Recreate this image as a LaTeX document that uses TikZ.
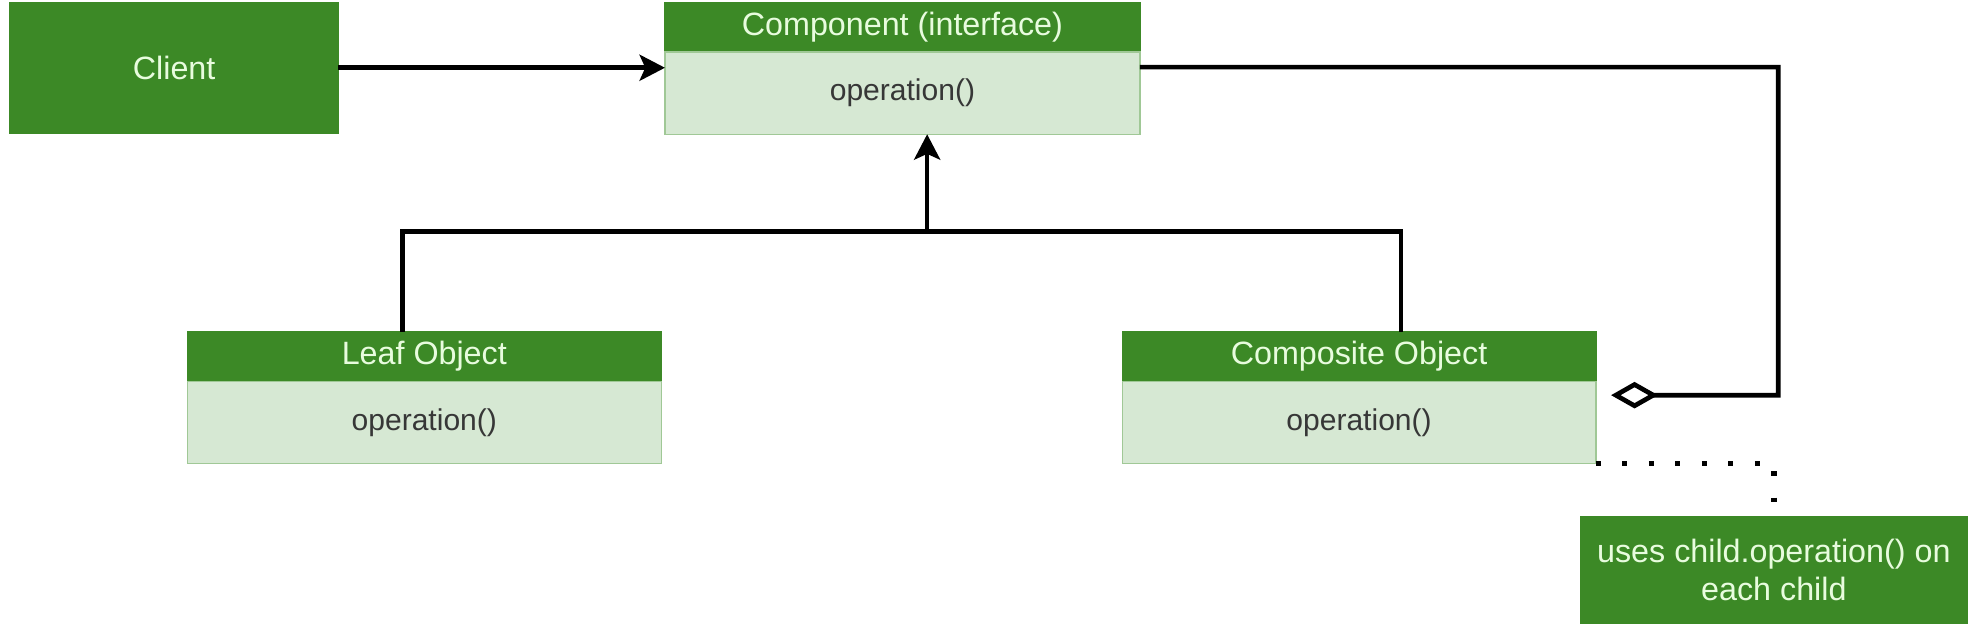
\documentclass[tikz,border=0pt]{standalone}
\usepackage{fontspec}
\setmainfont{Liberation Sans}
\usepackage{tikz}
\usetikzlibrary{positioning,arrows.meta}
\definecolor{verdeoscuro}{RGB}{60,137,38}
\definecolor{verdeclaro}{RGB}{214,232,211}
\definecolor{bordeclaro}{RGB}{160,200,150}
\definecolor{textoclaro}{RGB}{232,252,222}
\definecolor{textogris}{RGB}{55,55,55}
\tikzset{arista/.style={line width=2.1pt}}
\tikzset{flecha/.style={arista,-{Stealth[length=4mm,width=4.1mm,inset=0.9mm]}}}
\tikzset{rombo/.style={arista,-{Diamond[fill=white,length=7.4mm,width=4.2mm]}}}
\tikzset{punteado/.style={line width=2.4pt,dash pattern=on 2.2pt off 9.7pt}}
\tikzset{cabecera/.style={draw=verdeoscuro,fill=verdeoscuro,text=textoclaro,line width=0.6pt,
  inner sep=0pt,outer sep=0pt,minimum width=7.5cm,minimum height=0.78cm,font=\fontsize{14.5}{17}\selectfont}}
\tikzset{cuerpo/.style={draw=bordeclaro,fill=verdeclaro,text=textogris,line width=0.6pt,
  inner sep=0pt,outer sep=0pt,minimum width=7.5cm,minimum height=1.3cm,font=\fontsize{13.5}{16}\selectfont}}

\begin{document}
\begin{tikzpicture}[x=0.2mm, y=-0.2mm]
            \useasboundingbox (0,0) rectangle (1568,502);
            \node[cabecera, minimum width=5.18cm, minimum height=2.06cm] (client) at (137.5,53.5) {Client};
            \node[cabecera] (comp) at (712.5,21.5) {Component (interface)};
            \node[cuerpo, below=0mm of comp] (compop) {operation()};
            \node[cabecera, minimum width=7.48cm] (leaf) at (335,281.5) {Leaf Object};
            \node[cuerpo, minimum width=7.48cm, below=0mm of leaf] (leafop) {operation()};
            \node[cabecera, minimum width=7.48cm] (composite) at (1073,281.5) {Composite Object};
            \node[cuerpo, minimum width=7.48cm, below=0mm of composite] (compositeop) {operation()};
            \node[cabecera, minimum width=6.1cm, minimum height=1.68cm, align=center] (note) at (1400.5,450) {uses child.operation() on\\each child};

            \coordinate (bus) at (732,183);
            \coordinate (agg) at (1404,312);

            \draw[flecha] (client) -- (client -| compop.west);
            \draw[arista] ([xshift=-3.4mm]leaf.north) |- (bus);
            \draw[arista] ([xshift=6.6mm]composite.north) |- (bus);
            \draw[flecha] (bus) -- (bus |- compop.south);
            \draw[rombo] ([yshift=4.1mm]compop.east) -| (agg) -- ([xshift=2.4mm,yshift=4.3mm]compositeop.east);
            \draw[punteado] (compositeop.south east) -| (note.north);
        \end{tikzpicture}
\end{document}
